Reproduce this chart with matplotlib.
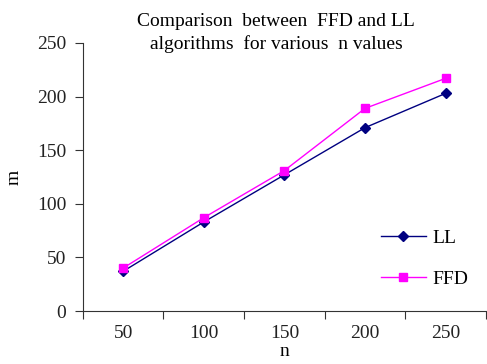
import matplotlib
matplotlib.use("Agg")
import matplotlib.pyplot as plt

categories = ["50", "100", "150", "200", "250"]
ll = [37, 83, 127, 171, 203]
ffd = [40, 87, 131, 189, 217]

plt.rcParams['font.family'] = ['Liberation Serif', 'DejaVu Serif']

fig = plt.figure(figsize=(4.87, 3.64), dpi=100)
ax = fig.add_axes([0.170, 0.1456, 0.828, 0.7364])
x = list(range(len(categories)))
ax.plot(x, ll, color='#000080', marker='D', markersize=5, lw=1, label='LL')
ax.plot(x, ffd, color='#FF00FF', marker='s', markersize=6, lw=1, label='FFD')

ax.set_xlim(-0.5, len(categories) - 0.5)
ax.set_ylim(0, 250)
ax.set_yticks([0, 50, 100, 150, 200, 250])
ax.set_xticks([i + 0.5 for i in range(-1, len(categories))], minor=False)
ax.set_xticklabels([])
ax.set_xticks(x, minor=True)
ax.set_xticklabels(categories, minor=True)
ax.tick_params(axis='x', which='major', length=6, direction='out', color='#333333')
ax.tick_params(axis='x', which='minor', length=0, pad=10, labelsize=14, labelcolor='#222222')
ax.tick_params(axis='y', length=6, direction='out', labelsize=14, labelcolor='#222222', color='#333333', pad=6)
for s in ['top', 'right']:
    ax.spines[s].set_visible(False)
for s in ['left', 'bottom']:
    ax.spines[s].set_color('#333333')

ax.set_xlabel('n', fontsize=14, labelpad=1)
ax.set_ylabel('m', fontsize=14, labelpad=10)
ax.set_title('Comparison  between  FFD and LL\nalgorithms  for various  n values', fontsize=14, x=0.48, y=1.0, pad=-4, linespacing=1.3)
ax.legend(loc='lower right', bbox_to_anchor=(1.0, 0.02), frameon=False, fontsize=14, handlelength=2.3, handletextpad=0.35, labelspacing=1.2)
fig.savefig('out.png', dpi=100)
